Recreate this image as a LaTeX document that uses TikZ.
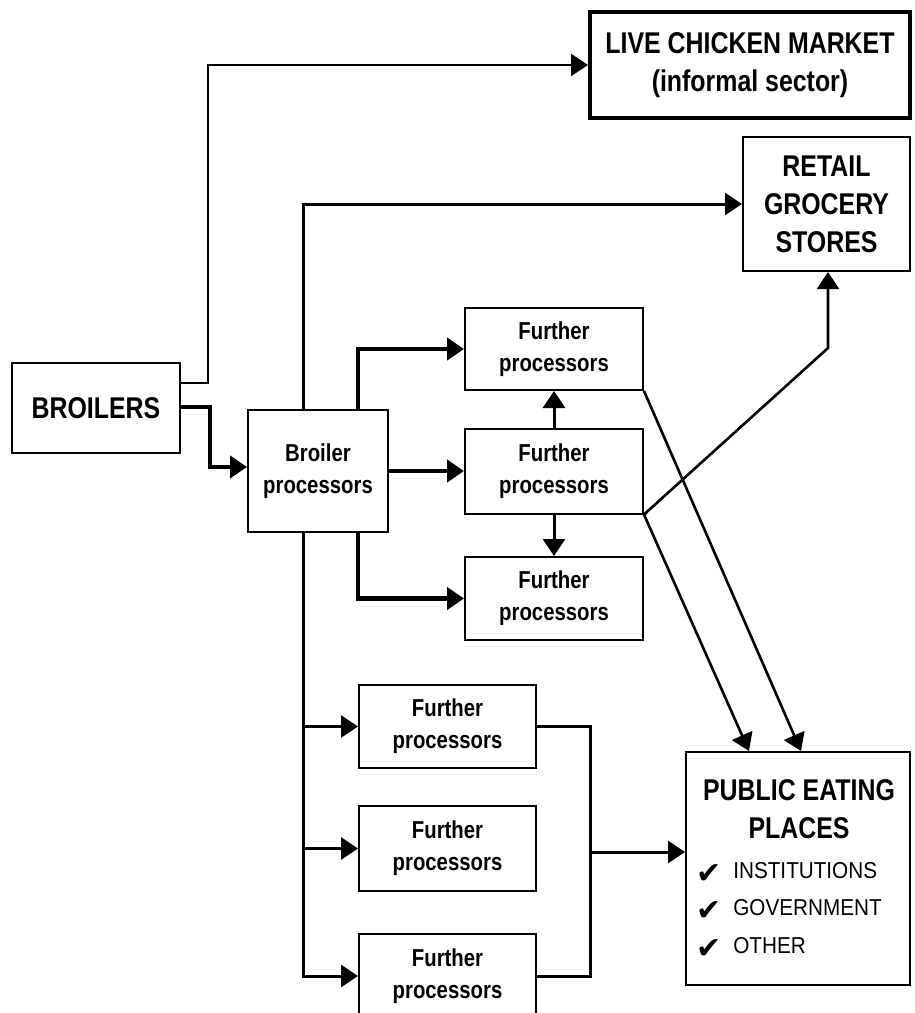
\documentclass[tikz,border=0pt]{standalone}
\usepackage{fontspec}
\setmainfont{Liberation Sans}[FakeStretch=0.83]
\newfontfamily\listfont{Liberation Sans}[FakeStretch=0.9]
\newfontfamily\symfont{DejaVu Sans}
\usetikzlibrary{arrows.meta,calc}
\newcommand{\chk}{\raisebox{-5pt}{\symfont\fontsize{30}{30}\selectfont ✔}}
\tikzset{
  box/.style={draw, line width=2pt, inner sep=0pt, align=center, font=\bfseries},
  bigtxt/.style={font=\fontsize{30}{38}\selectfont\bfseries},
  midtxt/.style={font=\fontsize{24.5}{32}\selectfont\bfseries},
  thinline/.style={line width=2.2pt},
  medline/.style={line width=3pt},
  thickline/.style={line width=4.4pt},
  tip/.style={-{Triangle[length=17pt,width=22pt]}},
}
\begin{document}
\begin{tikzpicture}[x=1pt,y=-1pt]
\clip (0,0) rectangle (914,1013);
\fill[white] (0,0) rectangle (914,1013);
% boxes
\node[box, line width=4pt, bigtxt, minimum width=320pt, minimum height=106pt] (live) at (750,65) {LIVE CHICKEN MARKET\\(informal sector)};
\node[box, bigtxt, minimum width=167pt, minimum height=134pt] (retail) at (826.5,204) {RETAIL\\GROCERY\\STORES};
\node[box, bigtxt, minimum width=168pt, minimum height=90pt] (broilers) at (96,408) {BROILERS};
\node[box, midtxt, minimum width=140pt, minimum height=122pt] (bp) at (318,471) {Broiler\\processors};
\node[box, midtxt, minimum width=178pt, minimum height=82pt] (fp1) at (554,349) {Further\\processors};
\node[box, midtxt, minimum width=178pt, minimum height=85pt] (fp2) at (554,471) {Further\\processors};
\node[box, midtxt, minimum width=178pt, minimum height=83pt] (fp3) at (554,598.5) {Further\\processors};
\node[box, midtxt, minimum width=177pt, minimum height=83pt] (fpa) at (447.5,726.5) {Further\\processors};
\node[box, midtxt, minimum width=177pt, minimum height=85pt] (fpb) at (447.5,848.5) {Further\\processors};
\node[box, midtxt, minimum width=177pt, minimum height=84pt] (fpc) at (447.5,976) {Further\\processors};
\node[box, minimum width=224pt, minimum height=233pt] (public) at (798,868.5) {};
\node[bigtxt, align=center, inner sep=0pt] (pubtitle) at (799,809) {PUBLIC EATING\\PLACES};
\node[anchor=west, align=left, inner sep=0pt, font=\fontsize{23}{37.5}\selectfont] (publist) at (696,910)
  {\chk\hspace{12pt}{\listfont INSTITUTIONS}\\
   \chk\hspace{12pt}{\listfont GOVERNMENT}\\
   \chk\hspace{12pt}{\listfont OTHER}};
% coordinates
\coordinate (livestart) at ($(broilers.east)+(0,-25)$);
\coordinate (livecorner) at (208,383);
\coordinate (trunk) at ($(bp.south)+(-15,0)$);
\coordinate (trunktop) at ($(bp.north)+(-15,0)$);
\coordinate (retailknee) at ($(retail.south)+(1.5,76)$);
\coordinate (merge) at (590,852);
% connectors
\draw[thinline, tip] (livestart) -- (livecorner) |- (live.west);
\draw[thickline, tip] ($(broilers.east)+(0,-1)$) -| (210,467) -- (bp.west |- 0,467);
\draw[medline, tip] (trunktop) |- (retail.west);
\draw[thickline, tip] ($(bp.north)+(40,0)$) |- (fp1.west);
\draw[thickline, tip] (bp.east) -- (fp2.west);
\draw[thickline, tip] ($(bp.south)+(40,0)$) |- (fp3.west);
\draw[medline, tip] (fp2.north) -- (fp1.south);
\draw[medline, tip] (fp2.south) -- (fp3.north);
\draw[thinline, line width=2.6pt, tip] (fp2.south east) -- (retailknee) -- (retail.south -| retailknee);
\draw[thinline, line width=2.6pt, tip] (fp2.south east) -- ($(public.north west)+(64,0)$);
\draw[thinline, line width=2.6pt, tip] (fp1.south east) -- ($(public.north west)+(116,0)$);
\draw[medline, tip] (trunk) |- (fpc.west);
\draw[medline, tip] (trunk |- fpa.west) -- (fpa.west);
\draw[medline, tip] (trunk |- fpb.west) -- (fpb.west);
\draw[medline] (fpa.east) -| (merge);
\draw[medline] (fpc.east) -| (merge);
\draw[medline, tip] (merge) -- (merge -| public.west);
\end{tikzpicture}
\end{document}
